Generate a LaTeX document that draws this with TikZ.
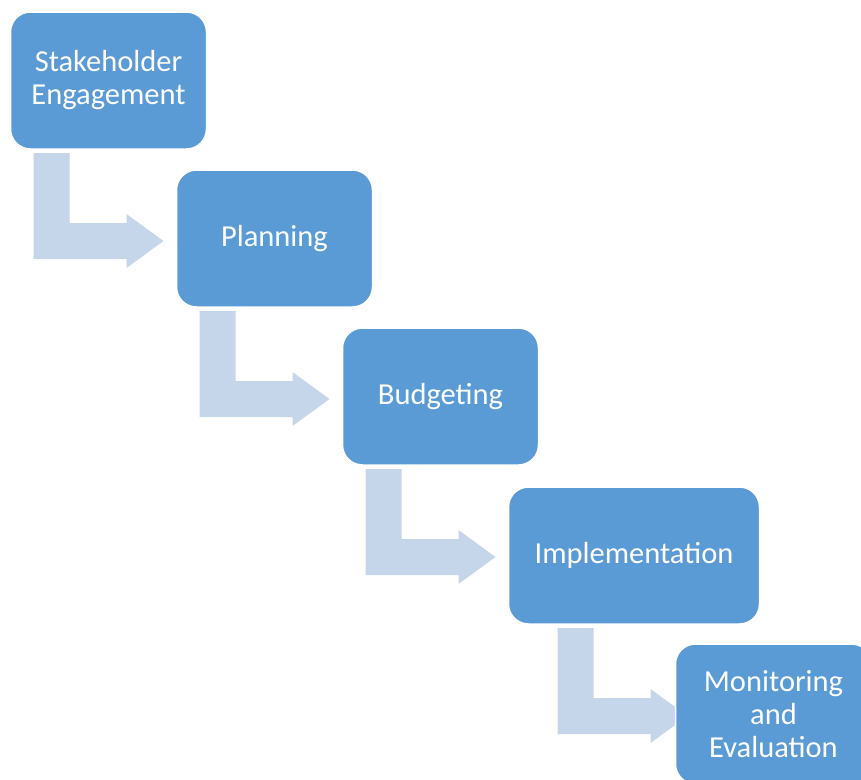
\documentclass[tikz,border=0pt]{standalone}
\usepackage{fontspec}
\setmainfont{Carlito}
\usepackage{xcolor}
\usetikzlibrary{shapes,positioning,backgrounds}
\definecolor{stagecolor}{RGB}{91,155,213}
\definecolor{flowcolor}{RGB}{197,213,234}

\begin{document}
\begin{tikzpicture}[
    x=1pt, y=1pt,
    stage/.style={rectangle, rounded corners=20pt, draw=white, line width=1.5pt, outer sep=0pt, fill=stagecolor, text=white, minimum width=196pt, minimum height=137pt, align=center, font=\fontsize{30.5}{33}\selectfont},
    flow/.style={fill=flowcolor}
]
\useasboundingbox (0,0) rectangle (861,-779);
\node[stage] (engage) at (108.5,-80.5) {Stakeholder\\Engagement};
\node[stage, below right=21pt and -30pt of engage] (plan) {Planning};
\node[stage, below right=21pt and -30pt of plan] (budget) {Budgeting};
\node[stage, minimum width=251pt, below right=22pt and -30pt of budget] (implement) {Implementation};
\node[stage, minimum height=140pt, below right=20pt and -84pt of implement] (monitor) {Monitoring\\and\\Evaluation};

\begin{scope}[on background layer]
\fill[flow] ([xshift=23pt,yshift=-4pt]engage.south west) -- ++(36,0) -- ++(0,-70) -- ++(57,0) -- ++(0,9) -- ++(37,-27) -- ++(-37,-27) -- ++(0,9) -- ++(-93,0) -- cycle;
\fill[flow] ([xshift=23pt,yshift=-4pt]plan.south west) -- ++(36,0) -- ++(0,-70) -- ++(57,0) -- ++(0,9) -- ++(37,-27) -- ++(-37,-27) -- ++(0,9) -- ++(-93,0) -- cycle;
\fill[flow] ([xshift=23pt,yshift=-4pt]budget.south west) -- ++(36,0) -- ++(0,-70) -- ++(57,0) -- ++(0,9) -- ++(37,-27) -- ++(-37,-27) -- ++(0,9) -- ++(-93,0) -- cycle;
\fill[flow] ([xshift=49pt,yshift=-4pt]implement.south west) -- ++(36,0) -- ++(0,-70) -- ++(57,0) -- ++(0,9) -- ++(37,-27) -- ++(-37,-27) -- ++(0,9) -- ++(-93,0) -- cycle;
\end{scope}
\end{tikzpicture}
\end{document}
